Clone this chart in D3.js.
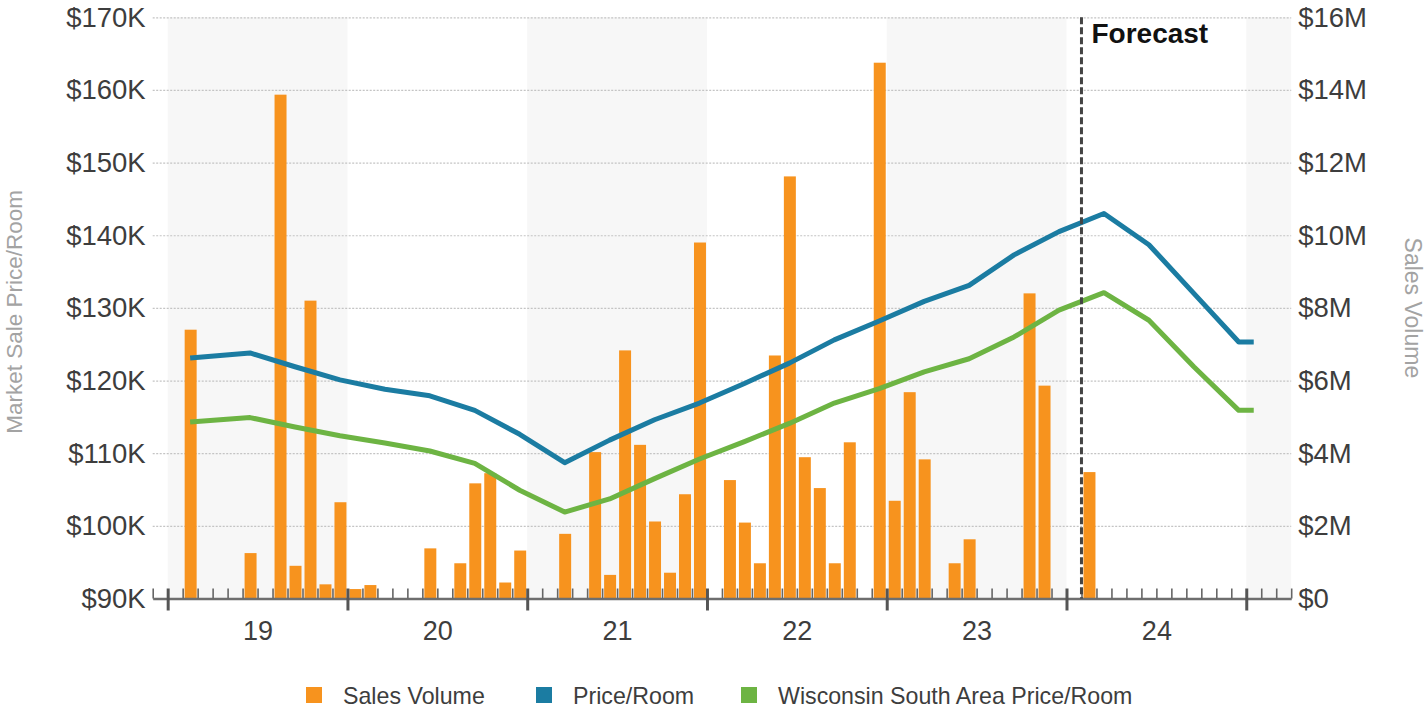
<!DOCTYPE html>
<html>
<head>
<meta charset="utf-8">
<script src="https://cdn.jsdelivr.net/npm/d3@7"></script>
<style>
  html, body { margin: 0; padding: 0; background: #fff; }
  svg { display: block; font-family: "Liberation Sans", Arial, sans-serif; }
</style>
</head>
<body>
<svg id="chart" width="1425" height="712"></svg>
<script>
// Monthly sales volume ($M), only months with recorded sales
const saleMonths = [
  "2019-02","2019-06","2019-08","2019-09","2019-10","2019-11","2019-12",
  "2020-01","2020-02","2020-06","2020-08","2020-09","2020-10","2020-11","2020-12",
  "2021-03","2021-05","2021-06","2021-07","2021-08","2021-09","2021-10","2021-11","2021-12",
  "2022-02","2022-03","2022-04","2022-05","2022-06","2022-07","2022-08","2022-09","2022-10","2022-12",
  "2023-01","2023-02","2023-03","2023-05","2023-06","2023-10","2023-11",
  "2024-02"
];
const saleVolumeM = [
  7.4, 1.25, 13.87, 0.9, 8.2, 0.39, 2.65,
  0.26, 0.37, 1.38, 0.97, 3.17, 3.45, 0.44, 1.32,
  1.78, 4.03, 0.65, 6.83, 4.23, 2.12, 0.71, 2.87, 9.8,
  3.26, 2.09, 0.97, 6.69, 11.62, 3.89, 3.04, 0.97, 4.3, 14.75,
  2.69, 5.68, 3.83, 0.97, 1.63, 8.4, 5.86,
  3.48
];

// Quarterly price per room ($K)
const lineMonths = [
  "2019-02","2019-06","2019-09","2019-12",
  "2020-03","2020-06","2020-09","2020-12",
  "2021-03","2021-06","2021-09","2021-12",
  "2022-03","2022-06","2022-09","2022-12",
  "2023-03","2023-06","2023-09","2023-12",
  "2024-03","2024-06","2024-09","2024-12","2025-01"
];
const priceRoomK = [
  123.1, 123.8, 121.9, 120.1,
  118.8, 117.9, 115.9, 112.6,
  108.7, 111.8, 114.6, 116.9,
  119.6, 122.4, 125.6, 128.2,
  130.9, 133.1, 137.3, 140.5,
  143.0, 138.7, 132.0, 125.3, 125.3
];
const wiSouthPriceRoomK = [
  114.3, 114.9, 113.6, 112.4,
  111.4, 110.3, 108.6, 104.9,
  101.9, 103.7, 106.5, 109.2,
  111.6, 114.1, 116.9, 118.9,
  121.2, 123.0, 126.0, 129.7,
  132.1, 128.3, 121.9, 115.9, 115.9
];

const yearLabels = ["19", "20", "21", "22", "23", "24"];
const leftTicks = [90, 100, 110, 120, 130, 140, 150, 160, 170];
const rightTicks = [0, 2, 4, 6, 8, 10, 12, 14, 16];
const forecastStart = "2024-02";
const shadedYears = [2019, 2021, 2023, 2025];

const legendItems = ["Sales Volume", "Price/Room", "Wisconsin South Area Price/Room"];
const colors = { bar: "#F7931E", price: "#1B7CA2", area: "#6DB443" };

// month index relative to Jan 2019
const monthIndex = s => {
  const [y, m] = s.split("-").map(Number);
  return (y - 2019) * 12 + (m - 1);
};

const svg = d3.select("#chart");
const plotLeft = 152.7, plotRight = 1291.2, plotTop = 17.3, plotBottom = 598.5;

const x = d3.scaleLinear().domain([-1, 75]).range([plotLeft, plotRight]);
const yL = d3.scaleLinear().domain([90, 170]).range([plotBottom, plotTop]);
const yR = d3.scaleLinear().domain([0, 16]).range([plotBottom, plotTop]);

// alternating year shading
svg.append("g").selectAll("rect")
  .data(shadedYears)
  .join("rect")
  .attr("x", d => x((d - 2019) * 12))
  .attr("y", plotTop)
  .attr("width", d => Math.min(x((d - 2018) * 12), plotRight) - x((d - 2019) * 12))
  .attr("height", plotBottom - plotTop)
  .attr("fill", "#f7f7f7");

// horizontal gridlines
const grid = svg.append("g")
  .attr("transform", `translate(${plotLeft},0)`)
  .call(d3.axisLeft(yL).tickValues(leftTicks).tickSize(-(plotRight - plotLeft)).tickFormat(""));
grid.select(".domain").remove();
grid.selectAll("line")
  .attr("stroke", "#c4c4c4")
  .attr("stroke-width", 1.2)
  .attr("stroke-dasharray", "2,1.5");

// left axis labels
const leftAxis = svg.append("g")
  .attr("transform", `translate(${plotLeft},0)`)
  .call(d3.axisLeft(yL).tickValues(leftTicks).tickSize(0).tickPadding(7).tickFormat(d => `$${d}K`));
leftAxis.select(".domain").remove();
leftAxis.selectAll("text")
  .attr("font-size", 27.5).attr("fill", "#3d3d3d")
  .style("font-family", "'Liberation Sans', Arial, sans-serif");

// right axis labels
const rightAxis = svg.append("g")
  .attr("transform", `translate(${plotRight},0)`)
  .call(d3.axisRight(yR).tickValues(rightTicks).tickSize(0).tickPadding(7)
    .tickFormat(d => d === 0 ? "$0" : `$${d}M`));
rightAxis.select(".domain").remove();
rightAxis.selectAll("text")
  .attr("font-size", 27.5).attr("fill", "#3d3d3d")
  .style("font-family", "'Liberation Sans', Arial, sans-serif");

// bars
const barData = saleMonths.map((m, i) => ({ idx: monthIndex(m), v: saleVolumeM[i] }));
svg.append("g").selectAll("rect")
  .data(barData)
  .join("rect")
  .attr("x", d => x(d.idx) + 2)
  .attr("width", d => x(d.idx + 1) - x(d.idx) - 3)
  .attr("y", d => yR(d.v))
  .attr("height", d => plotBottom - yR(d.v))
  .attr("fill", colors.bar);

// lines
const lineGen = d3.line()
  .x(d => x(d.idx + 0.5))
  .y(d => yL(d.v));
const priceData = lineMonths.map((m, i) => ({ idx: monthIndex(m), v: priceRoomK[i] }));
const areaData = lineMonths.map((m, i) => ({ idx: monthIndex(m), v: wiSouthPriceRoomK[i] }));

svg.append("path").datum(areaData)
  .attr("d", lineGen).attr("fill", "none")
  .attr("stroke", colors.area).attr("stroke-width", 5)
  .attr("stroke-linejoin", "round");
svg.append("path").datum(priceData)
  .attr("d", lineGen).attr("fill", "none")
  .attr("stroke", colors.price).attr("stroke-width", 5)
  .attr("stroke-linejoin", "round");

// bottom axis: baseline, monthly minor ticks, yearly major ticks
const allMonths = d3.range(-1, 76);
const majorIdx = allMonths.filter(i => i >= 0 && i % 12 === 0 && i <= 72);
const minorIdx = allMonths.filter(i => !majorIdx.includes(i));

const minorAxis = svg.append("g")
  .attr("transform", `translate(0,${plotBottom})`)
  .call(d3.axisBottom(x).tickValues(minorIdx).tickSize(-10).tickSizeOuter(0).tickFormat(""));
minorAxis.select(".domain").attr("stroke", "#6e6e6e").attr("stroke-width", 2.5);
minorAxis.selectAll(".tick line").attr("stroke", "#666").attr("stroke-width", 1.6);

const majorAxis = svg.append("g")
  .attr("transform", `translate(0,${plotBottom})`)
  .call(d3.axisBottom(x).tickValues(majorIdx).tickSize(12).tickFormat(""));
majorAxis.select(".domain").remove();
majorAxis.selectAll(".tick line")
  .attr("y1", -10).attr("y2", 12)
  .attr("stroke", "#555").attr("stroke-width", 3);

const yearAxis = svg.append("g")
  .attr("transform", `translate(0,${plotBottom})`)
  .call(d3.axisBottom(x).tickValues(yearLabels.map((_, i) => i * 12 + 6)).tickSize(0).tickPadding(22)
    .tickFormat((d, i) => yearLabels[i]));
yearAxis.select(".domain").remove();
yearAxis.selectAll("text")
  .attr("font-size", 27).attr("fill", "#3d3d3d")
  .style("font-family", "'Liberation Sans', Arial, sans-serif");

// forecast marker
const fx = x(monthIndex(forecastStart));
svg.append("line")
  .attr("x1", fx).attr("x2", fx)
  .attr("y1", plotTop).attr("y2", plotBottom)
  .attr("stroke", "#444").attr("stroke-width", 3)
  .attr("stroke-dasharray", "7,3");
svg.append("text")
  .attr("x", fx + 10).attr("y", 43)
  .attr("font-size", 28).attr("font-weight", "bold").attr("fill", "#111")
  .text("Forecast");

// axis titles
svg.append("text")
  .attr("transform", `translate(22,${(plotTop + plotBottom) / 2 + 4}) rotate(-90)`)
  .attr("text-anchor", "middle")
  .attr("font-size", 22.5).attr("fill", "#a3a3a3")
  .text("Market Sale Price/Room");
svg.append("text")
  .attr("transform", `translate(1405,${(plotTop + plotBottom) / 2}) rotate(90)`)
  .attr("text-anchor", "middle")
  .attr("font-size", 23).attr("fill", "#a3a3a3")
  .text("Sales Volume");

// legend
const legendX = [306, 536, 741];
const legendColors = [colors.bar, colors.price, colors.area];
const legend = svg.append("g").selectAll("g")
  .data(legendItems)
  .join("g")
  .attr("transform", (d, i) => `translate(${legendX[i]},687)`);
legend.append("rect")
  .attr("width", 16).attr("height", 16)
  .attr("fill", (d, i) => legendColors[i]);
legend.append("text")
  .attr("x", 37).attr("y", 16.5)
  .attr("font-size", 23.2).attr("fill", "#3d3d3d")
  .text(d => d);
</script>
</body>
</html>
